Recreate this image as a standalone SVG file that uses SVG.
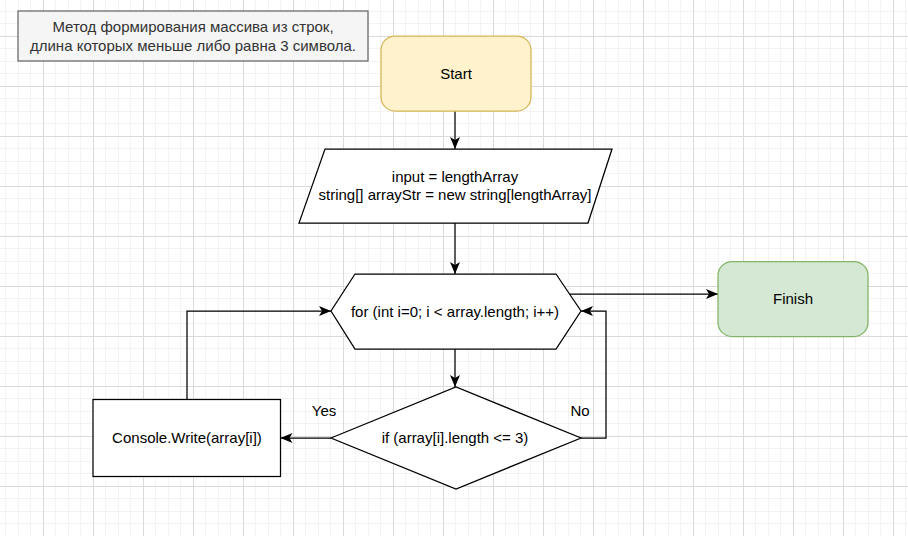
<svg xmlns="http://www.w3.org/2000/svg" width="908" height="536" viewBox="0 0 908 536">
  <defs>
    <pattern id="grid" x="43" y="36" width="50" height="50" patternUnits="userSpaceOnUse">
      <rect x="12" y="0" width="1" height="50" fill="#f3f3f3"/>
      <rect x="25" y="0" width="1" height="50" fill="#f3f3f3"/>
      <rect x="37" y="0" width="1" height="50" fill="#f3f3f3"/>
      <rect x="0" y="12" width="50" height="1" fill="#f3f3f3"/>
      <rect x="0" y="25" width="50" height="1" fill="#f3f3f3"/>
      <rect x="0" y="37" width="50" height="1" fill="#f3f3f3"/>
      <rect x="0" y="0" width="1" height="50" fill="#dadada"/>
      <rect x="0" y="0" width="50" height="1" fill="#dadada"/>
    </pattern>
    <marker id="arrow" markerUnits="userSpaceOnUse" viewBox="0 0 12 10" refX="12" refY="5" markerWidth="12" markerHeight="10" orient="auto">
      <path d="M0,0 L12,5 L0,10 L3,5 Z" fill="#000"/>
    </marker>
  </defs>
  <style>
    text { font-family: "Liberation Sans", Arial, sans-serif; font-size: 15px; fill: #000; text-anchor: middle; dominant-baseline: central; }
    .shape { fill: #fff; stroke: #000; stroke-width: 1.25; }
    .edge { fill: none; stroke: #000; stroke-width: 1.25; }
    .arrow { marker-end: url(#arrow); }
  </style>

  <rect width="908" height="536" fill="#fff"/>
  <rect width="908" height="536" fill="url(#grid)"/>

  <!-- note -->
  <g id="note">
    <rect x="18" y="11" width="350" height="50" fill="#f5f5f5" stroke="#666" stroke-width="1.25"/>
    <text x="193" y="26" style="fill:#333">Метод формирования массива из строк,</text>
    <text x="193" y="45" style="fill:#333">длина которых меньше либо равна 3 символа.</text>
  </g>

  <!-- connectors -->
  <g id="connectors">
    <path class="edge arrow" d="M455,111 L455,149"/>
    <path class="edge arrow" d="M455,223 L455,274"/>
    <path class="edge arrow" d="M455,349 L455,387"/>
    <path class="edge arrow" d="M569.5,294 L718,294"/>
    <path class="edge arrow" d="M331,438 L280.5,438"/>
    <path class="edge arrow" d="M187,399 L187,311 L331,311"/>
    <path class="edge arrow" d="M581,438 L606,438 L606,311 L581,311"/>
    <text x="324" y="410">Yes</text>
    <text x="580" y="410">No</text>
  </g>

  <g id="start">
    <rect x="381" y="36" width="150" height="75" rx="14" fill="#fff2cc" stroke="#d6b656" stroke-width="1.25"/>
    <text x="456" y="73">Start</text>
  </g>

  <g id="input">
    <polygon class="shape" points="325,149 612,149 588,223 299,223"/>
    <text x="455" y="176">input = lengthArray</text>
    <text x="455" y="194">string[] arrayStr = new string[lengthArray]</text>
  </g>

  <g id="loop">
    <polygon class="shape" points="355,274 556,274 581,311 556,349 355,349 331,311"/>
    <text x="455" y="311">for (int i=0; i &lt; array.length; i++)</text>
  </g>

  <g id="finish">
    <rect x="718" y="261.5" width="150" height="75" rx="14" fill="#d5e8d4" stroke="#82b366" stroke-width="1.25"/>
    <text x="793" y="298">Finish</text>
  </g>

  <g id="condition">
    <polygon class="shape" points="331,438 456,387 581,438 456,489"/>
    <text x="455" y="437">if (array[i].length &lt;= 3)</text>
  </g>

  <g id="output">
    <rect class="shape" x="93" y="399.5" width="187.5" height="77"/>
    <text x="187" y="437">Console.Write(array[i])</text>
  </g>
</svg>
